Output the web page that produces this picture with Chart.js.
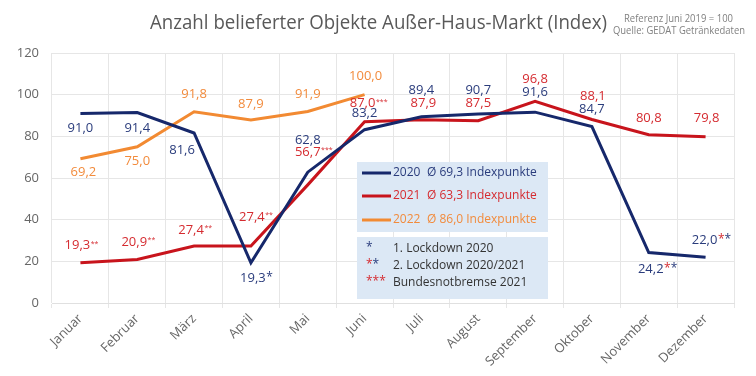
<!DOCTYPE html>
<html>
<head>
    <title>Anzahl belieferter Objekte</title>
    <script src="https://cdn.jsdelivr.net/npm/chart.js@4.4.0/dist/chart.umd.min.js"></script>
    <style>
        body { margin: 0; background: #fff; }
        #box { width: 756px; height: 376px; }
    </style>
</head>
<body>
<div id="box"><canvas id="stage" width="756" height="376"></canvas></div>
<script>
    // Daten (Index, Referenz Juni 2019 = 100)
    var months = ['Januar', 'Februar', 'März', 'April', 'Mai', 'Juni', 'Juli', 'August', 'September', 'Oktober', 'November', 'Dezember'];
    var values2020 = [91.0, 91.4, 81.6, 19.3, 62.8, 83.2, 89.4, 90.7, 91.6, 84.7, 24.2, 22.0];
    var values2021 = [19.3, 20.9, 27.4, 27.4, 56.7, 87.0, 87.9, 87.5, 96.8, 88.1, 80.8, 79.8];
    var values2022 = [69.2, 75.0, 91.8, 87.9, 91.9, 100.0];
    var marks2020 = ['', '', '', '*', '', '', '', '', '', '', '**', '**'];
    var marks2021 = ['**', '**', '**', '**', '***', '***', '', '', '', '', '', ''];
    var seriesNames = ['2020', '2021', '2022'];
    var seriesAvg = ['Ø 69,3 Indexpunkte', 'Ø 63,3 Indexpunkte', 'Ø 86,0 Indexpunkte'];
    var footnotes = ['1. Lockdown 2020', '2. Lockdown 2020/2021', 'Bundesnotbremse 2021'];
    var yMax = 120, yStep = 20;

    var NAVY = '#16286b', RED = '#c8141c', ORANGE = '#f28a32';
    var NAVY_T = '#2a3c7c', RED_T = '#d52b30', ORANGE_T = '#f28b3c';
    var FONT = '"Open Sans", sans-serif';

    // Label-Versatz (dx, dy) je Punkt
    var off2020 = [[0,15],[0,16],[-12,17],[2,16],[0,-32],[0,-16],[0,-26],[0,-24],[0,-20],[0,-17],[2,17],[-1,-17]];
    var off2021 = [[-3,-17],[-3,-17],[-3,-16],[1,-29],[0,-33],[-2,-18],[2,-17],[0,-17],[0,-22],[1,-23],[0,-16],[1,-18]];
    var off2022 = [[3,13],[0,15],[0,-17],[0,-16],[0,-17],[1,-18]];

    function fmt(v) { return v.toFixed(1).replace('.', ','); }

    function drawLabel(ctx, x, y, v, mark, color, small) {
        ctx.font = '13px ' + FONT;
        ctx.textAlign = 'center';
        ctx.textBaseline = 'middle';
        ctx.fillStyle = color;
        var s = fmt(v);
        ctx.fillText(s, x, y);
        if (!mark) return;
        var cx = x + ctx.measureText(s).width / 2 + 0.5;
        ctx.textAlign = 'left';
        if (small) {
            ctx.font = '7px ' + FONT;
            ctx.fillStyle = RED_T;
            ctx.fillText(mark, cx, y - 2);
        } else {
            ctx.font = '12px ' + FONT;
            for (var i = 0; i < mark.length; i++) {
                ctx.fillStyle = (mark.length > 1 && i === 0) ? RED_T : NAVY_T;
                ctx.fillText('*', cx, y - 1);
                cx += ctx.measureText('*').width;
            }
        }
    }

    function fitText(ctx, text, x, y, width) {
        var w = ctx.measureText(text).width;
        ctx.save();
        ctx.translate(x, y);
        ctx.scale(width / w, 1);
        ctx.fillText(text, 0, 0);
        ctx.restore();
    }

    var extras = {
        id: 'extras',
        afterDatasetsDraw: function(chart) {
            var ctx = chart.ctx;
            var xs = chart.scales.x, ys = chart.scales.y;
            ctx.save();
            // Legendenkästen
            ctx.fillStyle = '#dce8f5';
            ctx.fillRect(357, 162, 191, 70);
            ctx.fillRect(357, 237, 191, 62);
            var lineCols = [NAVY, RED, ORANGE];
            var textCols = [NAVY_T, RED_T, ORANGE_T];
            var rowY = [173, 196, 220];
            for (var i = 0; i < 3; i++) {
                ctx.strokeStyle = lineCols[i];
                ctx.lineWidth = 3;
                ctx.beginPath();
                ctx.moveTo(362, rowY[i]);
                ctx.lineTo(391, rowY[i]);
                ctx.stroke();
                ctx.font = '12px ' + FONT;
                ctx.textAlign = 'left';
                ctx.textBaseline = 'middle';
                ctx.fillStyle = textCols[i];
                ctx.fillText(seriesNames[i], 393, rowY[i]);
                ctx.fillText(seriesAvg[i], 427, rowY[i]);
            }
            var fnY = [249, 266, 283];
            var stars = [[NAVY_T], [RED_T, NAVY_T], [RED_T, RED_T, RED_T]];
            for (var k = 0; k < 3; k++) {
                ctx.font = '12px ' + FONT;
                var sx = 366;
                for (var j = 0; j < stars[k].length; j++) {
                    ctx.fillStyle = stars[k][j];
                    ctx.fillText('*', sx, fnY[k] - 1);
                    sx += ctx.measureText('*').width;
                }
                ctx.fillStyle = '#333333';
                ctx.fillText(footnotes[k], 393, fnY[k]);
            }
            // Datenbeschriftungen
            var sets = [
                [values2020, marks2020, off2020, NAVY_T, false],
                [values2021, marks2021, off2021, RED_T, true],
                [values2022, null, off2022, ORANGE_T, false]
            ];
            sets.forEach(function(s) {
                s[0].forEach(function(v, i) {
                    var x = xs.getPixelForValue(i) + s[2][i][0];
                    var y = ys.getPixelForValue(v) + s[2][i][1];
                    drawLabel(ctx, x, y, v, s[1] ? s[1][i] : '', s[3], s[4]);
                });
            });
            ctx.restore();
        },
        afterDraw: function(chart) {
            var ctx = chart.ctx;
            ctx.save();
            ctx.textAlign = 'left';
            ctx.textBaseline = 'alphabetic';
            ctx.fillStyle = '#595959';
            ctx.font = '20px ' + FONT;
            fitText(ctx, 'Anzahl belieferter Objekte Außer-Haus-Markt (Index)', 150, 29, 457);
            ctx.fillStyle = '#808080';
            ctx.font = '10px ' + FONT;
            fitText(ctx, 'Referenz Juni 2019 = 100', 624, 22, 109);
            fitText(ctx, 'Quelle: GEDAT Getränkedaten', 613, 34, 132);
            ctx.restore();
        }
    };

    var mydata = {
        labels: months,
        datasets: [
            { label: '2020', data: values2020, borderColor: NAVY, backgroundColor: NAVY },
            { label: '2021', data: values2021, borderColor: RED, backgroundColor: RED },
            { label: '2022', data: values2022, borderColor: ORANGE, backgroundColor: ORANGE }
        ]
    };

    var options = {
        responsive: false,
        animation: false,
        layout: { padding: { top: 53, right: 22, left: 0, bottom: 0 } },
        elements: {
            line: { borderWidth: 3, tension: 0 },
            point: { radius: 0, hoverRadius: 0 }
        },
        plugins: {
            legend: { display: false },
            tooltip: { enabled: false }
        },
        scales: {
            x: {
                offset: true,
                grid: { offset: true, color: '#e6e6e6', tickLength: 5, tickColor: '#e6e6e6' },
                border: { color: '#e0e0e0' },
                ticks: {
                    minRotation: 45, maxRotation: 45, autoSkip: false,
                    color: '#666666', font: { family: FONT, size: 13 }
                },
                afterFit: function(scale) { scale.height = 73; }
            },
            y: {
                min: 0, max: yMax,
                grid: { color: '#e6e6e6', drawTicks: false },
                border: { display: false },
                ticks: {
                    stepSize: yStep, padding: 13,
                    color: '#666666', font: { family: FONT, size: 13 }
                },
                afterFit: function(scale) { scale.width = 52; }
            }
        }
    };

    var canvas = document.getElementById('stage');
    var chart = new Chart(canvas, {
        type: 'line',
        data: mydata,
        options: options,
        plugins: [extras]
    });
</script>
</body>
</html>
